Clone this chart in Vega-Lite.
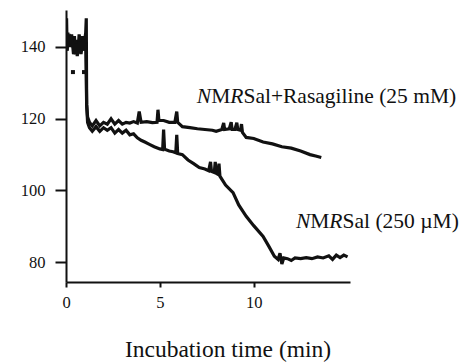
{
  "$schema": "https://vega.github.io/schema/vega-lite/v6.json",
  "width": 284,
  "height": 272,
  "autosize": {"type": "none"},
  "padding": {"left": 66, "top": 10, "right": 119, "bottom": 80},
  "background": "white",
  "config": {
    "view": {"stroke": null},
    "font": "Liberation Serif",
    "text": {"font": "Liberation Serif"},
    "axis": {"grid": false, "domainColor": "#111", "tickColor": "#111", "labelColor": "#111", "titleColor": "#111", "labelFont": "Liberation Serif", "titleFont": "Liberation Serif", "titleFontWeight": "normal", "domainWidth": 2, "tickWidth": 2}
  },
  "datasets": {
    "traces": [
      {"series": "NMRSal+Rasagiline", "t": 0, "v": 141}, {"series": "NMRSal+Rasagiline", "t": 0.03, "v": 148}, {"series": "NMRSal+Rasagiline", "t": 0.06, "v": 139}, {"series": "NMRSal+Rasagiline", "t": 0.1, "v": 142.5}, {"series": "NMRSal+Rasagiline", "t": 0.2, "v": 143}, {"series": "NMRSal+Rasagiline", "t": 0.3, "v": 142}, {"series": "NMRSal+Rasagiline", "t": 0.35, "v": 140}, {"series": "NMRSal+Rasagiline", "t": 0.45, "v": 143}, {"series": "NMRSal+Rasagiline", "t": 0.5, "v": 138}, {"series": "NMRSal+Rasagiline", "t": 0.55, "v": 142}, {"series": "NMRSal+Rasagiline", "t": 0.65, "v": 139.5}, {"series": "NMRSal+Rasagiline", "t": 0.7, "v": 143.5}, {"series": "NMRSal+Rasagiline", "t": 0.8, "v": 140}, {"series": "NMRSal+Rasagiline", "t": 0.85, "v": 143}, {"series": "NMRSal+Rasagiline", "t": 0.9, "v": 141}, {"series": "NMRSal+Rasagiline", "t": 0.95, "v": 139}, {"series": "NMRSal+Rasagiline", "t": 1.0, "v": 142}, {"series": "NMRSal+Rasagiline", "t": 1.05, "v": 144}, {"series": "NMRSal+Rasagiline", "t": 1.08, "v": 148}, {"series": "NMRSal+Rasagiline", "t": 1.1, "v": 124}, {"series": "NMRSal+Rasagiline", "t": 1.15, "v": 120.5}, {"series": "NMRSal+Rasagiline", "t": 1.25, "v": 119}, {"series": "NMRSal+Rasagiline", "t": 1.4, "v": 118}, {"series": "NMRSal+Rasagiline", "t": 1.6, "v": 119.5}, {"series": "NMRSal+Rasagiline", "t": 1.8, "v": 118}, {"series": "NMRSal+Rasagiline", "t": 2.0, "v": 119}, {"series": "NMRSal+Rasagiline", "t": 2.2, "v": 118.5}, {"series": "NMRSal+Rasagiline", "t": 2.4, "v": 120}, {"series": "NMRSal+Rasagiline", "t": 2.6, "v": 118.5}, {"series": "NMRSal+Rasagiline", "t": 2.8, "v": 119.5}, {"series": "NMRSal+Rasagiline", "t": 3.0, "v": 118.5}, {"series": "NMRSal+Rasagiline", "t": 3.2, "v": 119}, {"series": "NMRSal+Rasagiline", "t": 3.4, "v": 118.8}, {"series": "NMRSal+Rasagiline", "t": 3.6, "v": 119.2}, {"series": "NMRSal+Rasagiline", "t": 3.8, "v": 118.8}, {"series": "NMRSal+Rasagiline", "t": 3.9, "v": 122}, {"series": "NMRSal+Rasagiline", "t": 4.0, "v": 119}, {"series": "NMRSal+Rasagiline", "t": 4.3, "v": 119.2}, {"series": "NMRSal+Rasagiline", "t": 4.6, "v": 118.9}, {"series": "NMRSal+Rasagiline", "t": 4.85, "v": 119}, {"series": "NMRSal+Rasagiline", "t": 4.9, "v": 122.5}, {"series": "NMRSal+Rasagiline", "t": 4.95, "v": 119.5}, {"series": "NMRSal+Rasagiline", "t": 5.2, "v": 119.5}, {"series": "NMRSal+Rasagiline", "t": 5.5, "v": 119}, {"series": "NMRSal+Rasagiline", "t": 5.8, "v": 119}, {"series": "NMRSal+Rasagiline", "t": 5.9, "v": 122}, {"series": "NMRSal+Rasagiline", "t": 5.95, "v": 119}, {"series": "NMRSal+Rasagiline", "t": 6.2, "v": 117.8}, {"series": "NMRSal+Rasagiline", "t": 6.6, "v": 117.5}, {"series": "NMRSal+Rasagiline", "t": 7.0, "v": 117.2}, {"series": "NMRSal+Rasagiline", "t": 7.4, "v": 117}, {"series": "NMRSal+Rasagiline", "t": 7.8, "v": 116.8}, {"series": "NMRSal+Rasagiline", "t": 8.0, "v": 116.5}, {"series": "NMRSal+Rasagiline", "t": 8.3, "v": 117}, {"series": "NMRSal+Rasagiline", "t": 8.4, "v": 118.8}, {"series": "NMRSal+Rasagiline", "t": 8.45, "v": 117}, {"series": "NMRSal+Rasagiline", "t": 8.7, "v": 117.2}, {"series": "NMRSal+Rasagiline", "t": 8.8, "v": 119}, {"series": "NMRSal+Rasagiline", "t": 8.85, "v": 117}, {"series": "NMRSal+Rasagiline", "t": 9.0, "v": 117}, {"series": "NMRSal+Rasagiline", "t": 9.1, "v": 118.9}, {"series": "NMRSal+Rasagiline", "t": 9.15, "v": 117}, {"series": "NMRSal+Rasagiline", "t": 9.3, "v": 116.8}, {"series": "NMRSal+Rasagiline", "t": 9.35, "v": 118.5}, {"series": "NMRSal+Rasagiline", "t": 9.4, "v": 116.2}, {"series": "NMRSal+Rasagiline", "t": 9.6, "v": 114.8}, {"series": "NMRSal+Rasagiline", "t": 10.0, "v": 114.5}, {"series": "NMRSal+Rasagiline", "t": 10.5, "v": 113.5}, {"series": "NMRSal+Rasagiline", "t": 11.0, "v": 113}, {"series": "NMRSal+Rasagiline", "t": 11.5, "v": 112.2}, {"series": "NMRSal+Rasagiline", "t": 12.0, "v": 111.8}, {"series": "NMRSal+Rasagiline", "t": 12.5, "v": 111}, {"series": "NMRSal+Rasagiline", "t": 13.0, "v": 110}, {"series": "NMRSal+Rasagiline", "t": 13.3, "v": 109.6}, {"series": "NMRSal+Rasagiline", "t": 13.6, "v": 109.2},
      {"series": "NMRSal", "t": 0, "v": 146}, {"series": "NMRSal", "t": 0.05, "v": 139}, {"series": "NMRSal", "t": 0.1, "v": 144}, {"series": "NMRSal", "t": 0.2, "v": 140}, {"series": "NMRSal", "t": 0.3, "v": 143.5}, {"series": "NMRSal", "t": 0.4, "v": 138}, {"series": "NMRSal", "t": 0.5, "v": 141}, {"series": "NMRSal", "t": 0.6, "v": 137.5}, {"series": "NMRSal", "t": 0.7, "v": 141.5}, {"series": "NMRSal", "t": 0.8, "v": 138}, {"series": "NMRSal", "t": 0.9, "v": 142}, {"series": "NMRSal", "t": 1.0, "v": 139}, {"series": "NMRSal", "t": 1.05, "v": 141}, {"series": "NMRSal", "t": 1.1, "v": 124}, {"series": "NMRSal", "t": 1.15, "v": 119}, {"series": "NMRSal", "t": 1.25, "v": 117.5}, {"series": "NMRSal", "t": 1.4, "v": 116.5}, {"series": "NMRSal", "t": 1.6, "v": 117.8}, {"series": "NMRSal", "t": 1.8, "v": 116.5}, {"series": "NMRSal", "t": 2.0, "v": 117.5}, {"series": "NMRSal", "t": 2.2, "v": 116.8}, {"series": "NMRSal", "t": 2.4, "v": 117.5}, {"series": "NMRSal", "t": 2.6, "v": 116}, {"series": "NMRSal", "t": 2.8, "v": 117}, {"series": "NMRSal", "t": 3.0, "v": 116}, {"series": "NMRSal", "t": 3.2, "v": 116.8}, {"series": "NMRSal", "t": 3.4, "v": 115.5}, {"series": "NMRSal", "t": 3.6, "v": 115.8}, {"series": "NMRSal", "t": 3.8, "v": 114.7}, {"series": "NMRSal", "t": 4.0, "v": 114}, {"series": "NMRSal", "t": 4.2, "v": 113.5}, {"series": "NMRSal", "t": 4.47, "v": 112.8}, {"series": "NMRSal", "t": 4.7, "v": 112.2}, {"series": "NMRSal", "t": 5.0, "v": 111.6}, {"series": "NMRSal", "t": 5.15, "v": 111.4}, {"series": "NMRSal", "t": 5.2, "v": 117}, {"series": "NMRSal", "t": 5.25, "v": 111.5}, {"series": "NMRSal", "t": 5.5, "v": 111}, {"series": "NMRSal", "t": 5.7, "v": 110.8}, {"series": "NMRSal", "t": 5.85, "v": 110.5}, {"series": "NMRSal", "t": 5.9, "v": 115.5}, {"series": "NMRSal", "t": 5.95, "v": 110.3}, {"series": "NMRSal", "t": 6.2, "v": 110}, {"series": "NMRSal", "t": 6.5, "v": 108.5}, {"series": "NMRSal", "t": 6.8, "v": 107.5}, {"series": "NMRSal", "t": 7.1, "v": 106.4}, {"series": "NMRSal", "t": 7.4, "v": 106}, {"series": "NMRSal", "t": 7.6, "v": 105.5}, {"series": "NMRSal", "t": 7.7, "v": 108}, {"series": "NMRSal", "t": 7.75, "v": 105.3}, {"series": "NMRSal", "t": 7.9, "v": 105}, {"series": "NMRSal", "t": 7.95, "v": 108}, {"series": "NMRSal", "t": 8.0, "v": 104.8}, {"series": "NMRSal", "t": 8.1, "v": 104.5}, {"series": "NMRSal", "t": 8.15, "v": 107.5}, {"series": "NMRSal", "t": 8.2, "v": 104}, {"series": "NMRSal", "t": 8.5, "v": 101.5}, {"series": "NMRSal", "t": 8.9, "v": 99.4}, {"series": "NMRSal", "t": 9.2, "v": 96}, {"series": "NMRSal", "t": 9.6, "v": 92.8}, {"series": "NMRSal", "t": 10.0, "v": 90.2}, {"series": "NMRSal", "t": 10.5, "v": 87.2}, {"series": "NMRSal", "t": 10.8, "v": 84.5}, {"series": "NMRSal", "t": 11.1, "v": 81.7}, {"series": "NMRSal", "t": 11.3, "v": 80.8}, {"series": "NMRSal", "t": 11.4, "v": 82.5}, {"series": "NMRSal", "t": 11.5, "v": 79.5}, {"series": "NMRSal", "t": 11.6, "v": 81.2}, {"series": "NMRSal", "t": 11.8, "v": 81}, {"series": "NMRSal", "t": 12.0, "v": 80.5}, {"series": "NMRSal", "t": 12.2, "v": 81.2}, {"series": "NMRSal", "t": 12.5, "v": 81}, {"series": "NMRSal", "t": 12.8, "v": 81.3}, {"series": "NMRSal", "t": 13.1, "v": 81}, {"series": "NMRSal", "t": 13.4, "v": 81.5}, {"series": "NMRSal", "t": 13.7, "v": 81.2}, {"series": "NMRSal", "t": 14.0, "v": 81.8}, {"series": "NMRSal", "t": 14.2, "v": 80.8}, {"series": "NMRSal", "t": 14.4, "v": 82}, {"series": "NMRSal", "t": 14.6, "v": 81.3}, {"series": "NMRSal", "t": 14.8, "v": 82}, {"series": "NMRSal", "t": 15.0, "v": 81.5}
    ],
    "dots": [
      {"t": 0.37, "v": 133}, {"t": 0.96, "v": 133}
    ],
    "labels": [
      {"t": 6.97, "v": 124.4, "rest": "Sal+Rasagiline (25 mM)"},
      {"t": 12.25, "v": 89.5, "rest": "Sal (250 µM)"}
    ]
  },
  "layer": [
    {
      "data": {"name": "traces"},
      "mark": {"type": "line", "color": "#111", "strokeWidth": 3.2, "strokeJoin": "miter", "clip": true},
      "encoding": {
        "x": {"field": "t", "type": "quantitative", "scale": {"domain": [0, 15.13], "nice": false, "zero": false},
          "axis": {"values": [0, 5, 10], "title": "Incubation time (min)", "titleFontSize": 23.5, "titleX": 161.5, "titleY": 74, "titleBaseline": "alphabetic", "labelFontSize": 16.5, "tickSize": 5, "labelPadding": 7, "labelFlush": false}},
        "y": {"field": "v", "type": "quantitative", "scale": {"domain": [74.5, 150.3], "nice": false, "zero": false},
          "axis": {"values": [80, 100, 120, 140], "title": null, "labelFontSize": 16.5, "tickSize": 11, "labelPadding": 10, "labelFlush": false}},
        "detail": {"field": "series"}
      }
    },
    {
      "data": {"name": "dots"},
      "mark": {"type": "square", "color": "#111", "size": 16, "opacity": 1},
      "encoding": {
        "x": {"field": "t", "type": "quantitative"},
        "y": {"field": "v", "type": "quantitative"}
      }
    },
    {
      "data": {"name": "labels"},
      "layer": [
        {"mark": {"type": "text", "text": "N", "font": "Liberation Serif", "fontStyle": "italic", "fontSize": 21.5, "align": "left", "baseline": "alphabetic", "color": "#111"}},
        {"mark": {"type": "text", "text": "M", "font": "Liberation Serif", "fontSize": 21.5, "align": "left", "baseline": "alphabetic", "dx": 14.3, "color": "#111"}},
        {"mark": {"type": "text", "text": "R", "font": "Liberation Serif", "fontStyle": "italic", "fontSize": 21.5, "align": "left", "baseline": "alphabetic", "dx": 33.4, "color": "#111"}},
        {"mark": {"type": "text", "font": "Liberation Serif", "fontSize": 21.5, "align": "left", "baseline": "alphabetic", "dx": 46.6, "color": "#111"}, "encoding": {"text": {"field": "rest"}}}
      ],
      "encoding": {
        "x": {"field": "t", "type": "quantitative"},
        "y": {"field": "v", "type": "quantitative"}
      }
    }
  ]
}
